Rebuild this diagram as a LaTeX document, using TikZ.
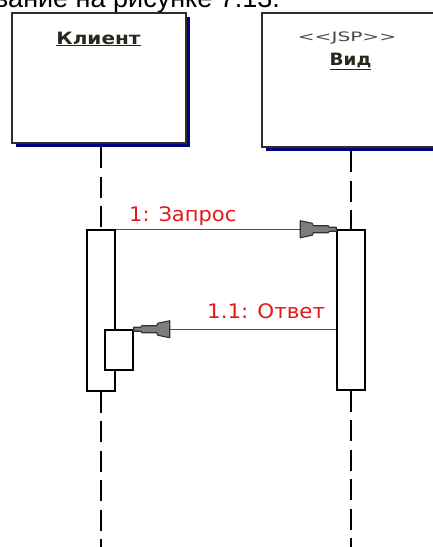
\documentclass[tikz,border=0pt]{standalone}
\usepackage{fontspec}
\newfontfamily\umlfont{DejaVu Sans}
\newfontfamily\headerfont{Liberation Sans}
\definecolor{shadownavy}{RGB}{0,0,128}
\definecolor{boxline}{RGB}{45,45,45}
\definecolor{namecol}{RGB}{40,40,28}
\definecolor{msgline}{RGB}{80,80,64}
\definecolor{msgred}{RGB}{228,24,24}
\definecolor{headfill}{RGB}{125,125,125}
\definecolor{headline}{RGB}{50,50,40}
\tikzset{
  objbox/.style={draw=boxline, line width=1.6pt, fill=white, inner sep=0pt, anchor=north west},
  shadowbox/.style={fill=shadownavy, draw=none, inner sep=0pt, anchor=north west},
  actbox/.style={draw=black, line width=1.5pt, fill=white, inner sep=0pt, minimum width=28pt},
  lifeline/.style={draw=black, line width=1.6pt, dash pattern=on 21pt off 8.5pt},
  msg/.style={draw=msgline, line width=1.5pt},
  msglabel/.style={text=msgred, font=\umlfont\fontsize{20}{23}\selectfont, inner sep=0pt, anchor=base west},
  objname/.style={text=namecol, font=\umlfont\bfseries\fontsize{17}{20}\selectfont, inner sep=0pt, anchor=base},
  stereo/.style={text=namecol!85!white, font=\umlfont\fontsize{13}{15}\selectfont, inner sep=0pt, anchor=base},
  rosehead/.pic={
    \filldraw[fill=headfill, draw=headline, line width=1.1pt, line join=round]
      (0,2) -- (-7,2) -- (-8,3.5) -- (-23,3.5) -- (-24,6) -- (-36,8.5)
      -- (-36,-8.5) -- (-24,-6) -- (-23,-3.5) -- (-8,-3.5) -- (-7,-2) -- (0,-2) -- cycle;
  }
}
\begin{document}
\begin{tikzpicture}[x=1pt,y=-1pt]
\useasboundingbox (0,0) rectangle (432,547);
% header text (cut at the top, as in the reference)
\node[anchor=base west, inner sep=0pt, font=\headerfont\fontsize{27}{31}\selectfont] (hdr) at (-6,7) {вание на рисунке 7.13.};
% object boxes with shadows
\node[shadowbox, minimum width=174pt, minimum height=130pt] (cshadow) at (16,17) {};
\node[objbox, minimum width=174pt, minimum height=130pt] (client) at (11,12) {};
\node[shadowbox, minimum width=220pt, minimum height=134pt] (vshadow) at (266,17) {};
\node[objbox, minimum width=220pt, minimum height=134pt] (view) at (261,12) {};
\node[objname] (cname) at (98.5,44) {\scalebox{1.18}[1]{\underline{Клиент}}};
\node[stereo] (vstereo) at (347,41) {\scalebox{1.55}[1]{<<JSP>>}};
\node[objname] (vname) at (350.5,65) {\scalebox{1.08}[1]{\underline{Вид}}};
% activations
\node[actbox, minimum height=161pt] (cact) at (101,310.5) {};
\node[actbox, minimum height=40pt] (cnest) at (119,350) {};
\node[actbox, minimum height=160pt] (vact) at (351,310) {};
% lifeline anchors
\coordinate (ctop) at (101,147);
\coordinate (cbot) at (101,547);
\coordinate (vtop) at (351,151);
\coordinate (vbot) at (351,547);
\draw[lifeline] (ctop) -- (cact.north);
\draw[lifeline] (cact.south) -- (cbot);
\draw[lifeline] (vtop) -- (vact.north);
\draw[lifeline] (vact.south) -- (vbot);
% messages
\draw[msg] (cact.north east) -- (vact.north west);
\pic at (vact.north west) {rosehead};
\node[msglabel] (l1) at (129,221) {\scalebox{1.05}[1]{1: Запрос}};
\coordinate (m2end) at (cnest.north east);
\draw[msg] (vact.west |- m2end) -- (m2end);
\pic[xscale=-1] at (m2end) {rosehead};
\node[msglabel] (l2) at (207,318) {\scalebox{1.07}[1]{1.1: Ответ}};
\end{tikzpicture}
\end{document}
